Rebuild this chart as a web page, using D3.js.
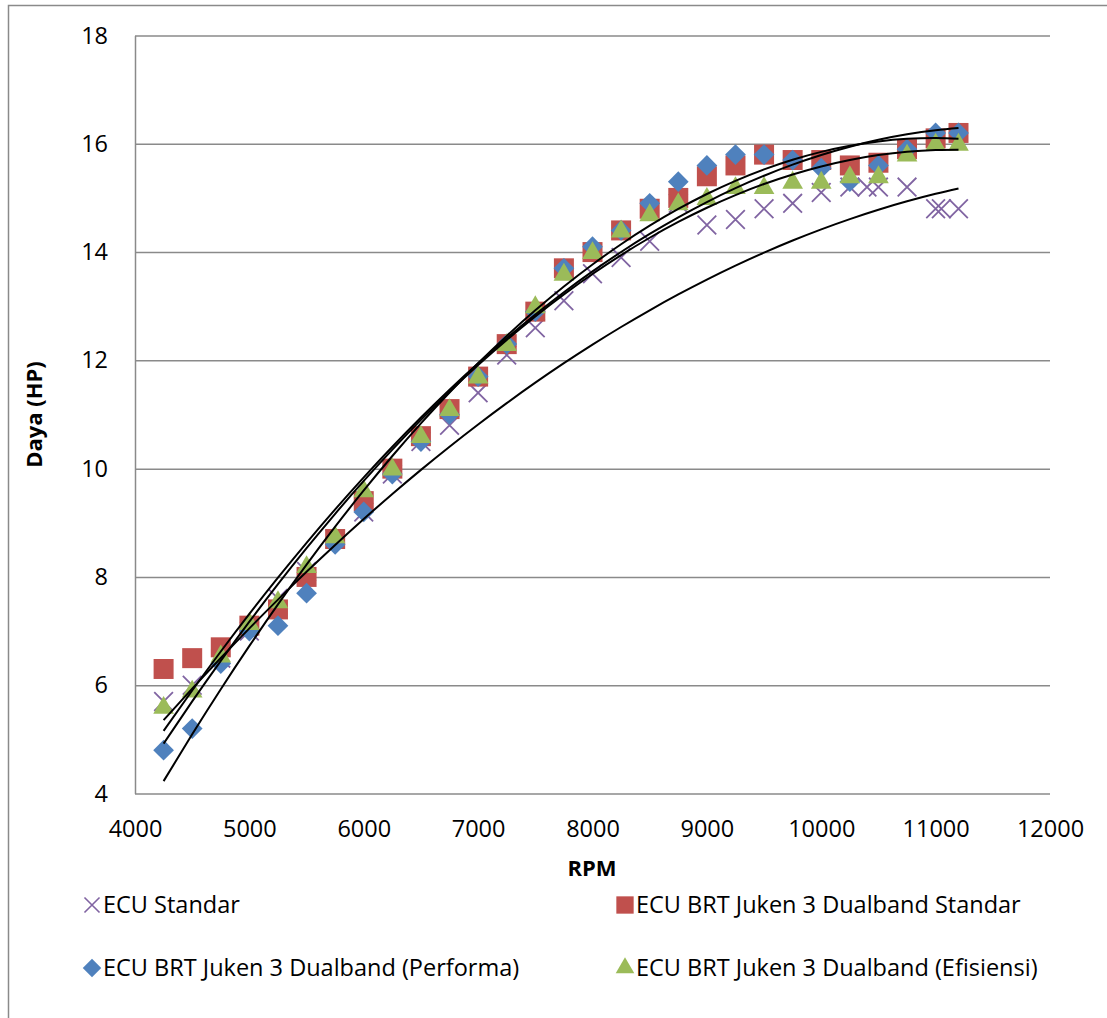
<!DOCTYPE html>
<html>
<head>
<meta charset="utf-8">
<script src="https://cdn.jsdelivr.net/npm/d3@7"></script>
<style>
  body { margin: 0; background: #fff; }
  text { font-family: "Open Sans", "Noto Sans", sans-serif; fill: #000; }
</style>
</head>
<body>
<div id="chart"></div>
<script>
// --- data ---
var rpm = [4250,4500,4750,5000,5250,5500,5750,6000,6250,6500,6750,7000,7250,7500,7750,
           8000,8250,8500,8750,9000,9250,9500,9750,10000,10250,10500,10750,11000,11200];
var rpmStandar = [4250,4500,4750,5000,5250,5500,5750,6000,6250,6500,6750,7000,7250,7500,7750,
           8000,8250,8500,8750,9000,9250,9500,9750,10000,10250,10400,10500,10750,11000,11050,11200];

var ecuStandar = [5.7,6.0,6.5,7.0,7.6,8.1,8.7,9.2,9.9,10.5,10.8,11.4,12.1,12.6,13.1,
                  13.6,13.9,14.2,14.9,14.5,14.6,14.8,14.9,15.1,15.2,15.2,15.2,15.2,14.8,14.8,14.8];
var brtStandar = [6.3,6.5,6.7,7.1,7.4,8.0,8.7,9.4,10.0,10.6,11.1,11.7,12.3,12.9,13.7,
                  14.0,14.4,14.8,15.0,15.4,15.6,15.8,15.7,15.7,15.6,15.65,15.9,16.1,16.2];
var brtPerforma = [4.8,5.2,6.4,7.0,7.1,7.7,8.6,9.2,9.9,10.5,11.0,11.7,12.3,12.9,13.7,
                   14.1,14.4,14.9,15.3,15.6,15.8,15.8,15.7,15.55,15.3,15.6,15.9,16.2,16.2];
var brtEfisiensi = [5.6,5.9,6.55,7.15,7.55,8.2,8.75,9.6,10.0,10.6,11.1,11.7,12.3,13.0,13.6,
                    14.0,14.4,14.7,14.9,15.0,15.2,15.2,15.3,15.3,15.4,15.4,15.8,16.0,16.0];

// ECU Standar trendline as it appears in the chart (poly2 in thousands of rpm)
var trendStandar = [-7.14, 3.52, -0.1364];

var xTicks = [4000,5000,6000,7000,8000,9000,10000,11000,12000];
var yTicks = [4,6,8,10,12,14,16,18];
var seriesNames = ["ECU Standar","ECU BRT Juken 3 Dualband Standar",
                   "ECU BRT Juken 3 Dualband (Performa)","ECU BRT Juken 3 Dualband (Efisiensi)"];

// --- setup ---
var width = 1107, height = 1018;
var plotL = 135, plotR = 1050, plotT = 35.5, plotB = 793.5;
var gridColor = "#8a8a8a";
var colors = {x:"#8064A2", sq:"#C0504D", di:"#4F81BD", tri:"#9BBB59"};

var svg = d3.select("#chart").append("svg")
  .attr("width", width).attr("height", height);

svg.append("rect")
  .attr("x", 8.5).attr("y", 5.5).attr("width", 1120).attr("height", 1030)
  .attr("fill", "#fff").attr("stroke", gridColor).attr("stroke-width", 1.5);

var xScale = d3.scaleLinear().domain([4000,12000]).range([plotL,plotR]);
var yScale = d3.scaleLinear().domain([4,18]).range([plotB,plotT]);

/* y axis + gridlines */
var yAxis = svg.append("g")
  .attr("transform", `translate(${plotL},0)`)
  .call(d3.axisLeft(yScale).tickValues(yTicks).tickFormat(d3.format("d"))
        .tickSizeInner(-(plotR-plotL)).tickSizeOuter(0).tickPadding(27));
yAxis.selectAll("line").attr("stroke", gridColor).attr("stroke-width", 1.5);
yAxis.select(".domain").attr("stroke", gridColor).attr("stroke-width", 1.5);
yAxis.selectAll("text").style("font-size", "23.5px").attr("font-family", null);

/* x axis */
var xAxis = svg.append("g")
  .attr("transform", `translate(0,${plotB})`)
  .call(d3.axisBottom(xScale).tickValues(xTicks).tickFormat(d3.format("d"))
        .tickSize(0).tickPadding(27));
xAxis.select(".domain").remove();
xAxis.selectAll("text").style("font-size", "23.5px").attr("font-family", null);

/* axis titles */
svg.append("text")
  .attr("transform", `translate(42,${(plotT+plotB)/2}) rotate(-90)`)
  .attr("text-anchor", "middle")
  .style("font-size", "22px").style("font-weight", "bold")
  .text("Daya (HP)");
svg.append("text")
  .attr("x", 592).attr("y", 876)
  .attr("text-anchor", "middle")
  .style("font-size", "22px").style("font-weight", "bold")
  .text("RPM");

/* markers */
var crossSym = d3.symbol(d3.symbolX, 230);
var squareSym = d3.symbol(d3.symbolSquare, 400);
var diamondSym = d3.symbol(d3.symbolSquare, 215);
var triSym = d3.symbol(d3.symbolTriangle, 185);

function drawPoints(xs, ys, sym, color, kind) {
  var g = svg.append("g");
  var p = g.selectAll("path").data(ys).enter().append("path")
    .attr("d", sym)
    .attr("transform", function(d, i) {
      var t = `translate(${xScale(xs[i])},${yScale(d)})`;
      if (kind == "di") t += " rotate(45)";
      if (kind == "tri") t += " translate(0,1)";
      return t;
    });
  if (kind == "x") p.attr("fill", "none").attr("stroke", color).attr("stroke-width", 1.8);
  else p.attr("fill", color);
}

drawPoints(rpmStandar, ecuStandar, crossSym, colors.x, "x");
drawPoints(rpm, brtStandar, squareSym, colors.sq, "sq");
drawPoints(rpm, brtPerforma, diamondSym, colors.di, "di");
drawPoints(rpm, brtEfisiensi, triSym, colors.tri, "tri");

/* Poly trendlines (order 2), least squares like Excel */
function polyFit(xs, ys) {
  var S = [0,0,0,0,0], T = [0,0,0];
  xs.forEach(function(xv, i) {
    var u = xv/1000, p = 1;
    for (var k = 0; k < 5; k++) { S[k] += p; p *= u; }
    T[0] += ys[i]; T[1] += ys[i]*u; T[2] += ys[i]*u*u;
  });
  var M = [[S[0],S[1],S[2],T[0]],[S[1],S[2],S[3],T[1]],[S[2],S[3],S[4],T[2]]];
  for (var c = 0; c < 3; c++) {
    for (var r = c+1; r < 3; r++) {
      var f = M[r][c]/M[c][c];
      for (var k = c; k < 4; k++) M[r][k] -= f*M[c][k];
    }
  }
  var co = [0,0,0];
  for (var r = 2; r >= 0; r--) {
    var s = M[r][3];
    for (var k = r+1; k < 3; k++) s -= M[r][k]*co[k];
    co[r] = s/M[r][r];
  }
  return co;
}

var trendLine = d3.line()
  .x(d => xScale(d.x))
  .y(d => yScale(d.y))
  .curve(d3.curveNatural);

function drawTrend(xs, co) {
  var pts = xs.map(function(xv) {
    var u = xv/1000;
    return {x: xv, y: co[0] + co[1]*u + co[2]*u*u};
  });
  svg.append("path")
    .attr("d", trendLine(pts))
    .attr("fill", "none").attr("stroke", "#000").attr("stroke-width", 2);
}

drawTrend(rpm, trendStandar);
drawTrend(rpm, polyFit(rpm, brtStandar));
drawTrend(rpm, polyFit(rpm, brtPerforma));
drawTrend(rpm, polyFit(rpm, brtEfisiensi));

/* legend */
var legendItems = [
  {name: seriesNames[0], sym: d3.symbol(d3.symbolX, 150), kind: "x", color: colors.x, x: 92, y: 905},
  {name: seriesNames[1], sym: d3.symbol(d3.symbolSquare, 300), kind: "sq", color: colors.sq, x: 625, y: 905},
  {name: seriesNames[2], sym: d3.symbol(d3.symbolSquare, 170), kind: "di", color: colors.di, x: 92, y: 968},
  {name: seriesNames[3], sym: d3.symbol(d3.symbolTriangle, 150), kind: "tri", color: colors.tri, x: 625, y: 968}
];
var leg = svg.append("g").selectAll("g").data(legendItems).enter().append("g")
  .attr("transform", d => `translate(${d.x},${d.y})`);
leg.append("path")
  .attr("d", d => d.sym())
  .attr("transform", d => d.kind == "di" ? "rotate(45)" : null)
  .attr("fill", d => d.kind == "x" ? "none" : d.color)
  .attr("stroke", d => d.kind == "x" ? d.color : null)
  .attr("stroke-width", 1.6);
leg.append("text")
  .attr("x", 11).attr("dy", "0.35em")
  .style("font-size", "23.5px")
  .text(d => d.name);
</script>
</body>
</html>
